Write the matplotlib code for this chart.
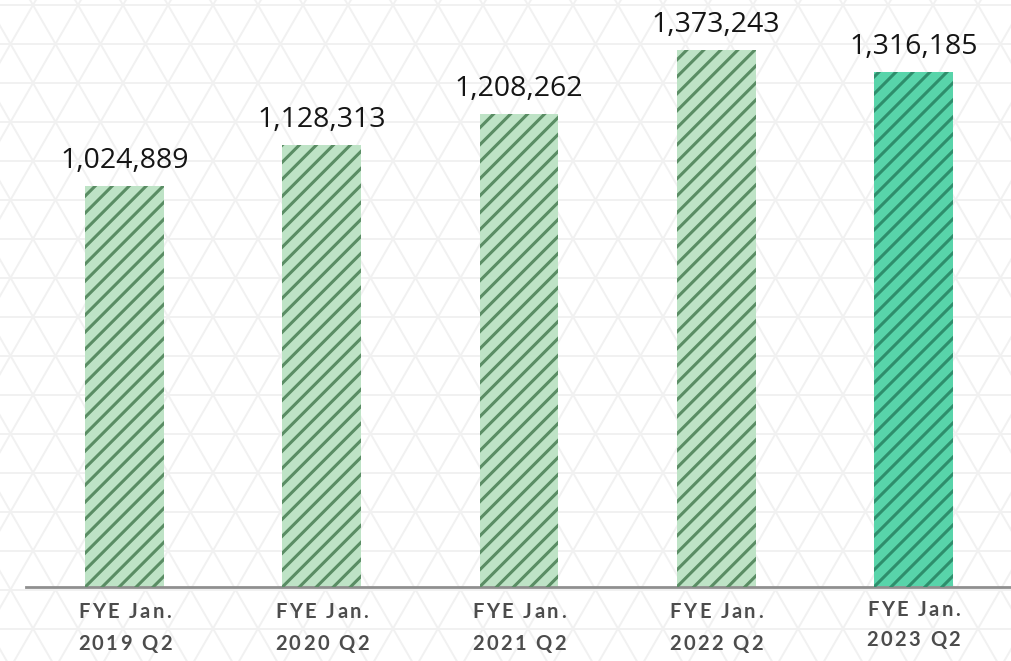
import numpy as np
import matplotlib
matplotlib.use('Agg')
import matplotlib.pyplot as plt
from matplotlib.font_manager import FontProperties

# data
periods = ['FYE Jan.\n2019 Q2', 'FYE Jan.\n2020 Q2', 'FYE Jan.\n2021 Q2',
           'FYE Jan.\n2022 Q2', 'FYE Jan.\n2023 Q2']
values = [1024889, 1128313, 1208262, 1373243, 1316185]

W, H = 1012, 661

fig = plt.figure(figsize=(W / 100, H / 100), dpi=100)
fig.patch.set_facecolor('white')

# faint triangle lattice in the background (pixel coords, y down)
bg = fig.add_axes([0, 0, 1, 1], zorder=0)
bg.set_xlim(0, W)
bg.set_ylim(H, 0)
bg.axis('off')
side = 45.0
row = side * np.sqrt(3) / 2
x0, y0 = 33.0, 5.0
lat_kw = dict(color='#f1f1f1', lw=1.4, solid_capstyle='butt')
for k in range(-2, int(H / row) + 3):
    bg.plot([0, W], [y0 + k * row] * 2, **lat_kw)
dx = 2000 / np.tan(np.radians(60))
for m in range(-60, 60):
    xs = x0 + m * side
    bg.plot([xs - dx, xs + dx], [y0 + 2000, y0 - 2000], **lat_kw)
    bg.plot([xs - dx, xs + dx], [y0 - 2000, y0 + 2000], **lat_kw)

# main bar axes
ax = fig.add_axes([26 / W, (H - 587) / H, (W - 26) / W, 587 / H], zorder=1)
ax.patch.set_alpha(0)
x = np.arange(len(values))
fills = ['#bee3c6'] * 4 + ['#58d4aa']
stripes = ['#5a8d64'] * 4 + ['#2e8e6c']
bars = ax.bar(x, values, width=0.4, color=fills, linewidth=0, zorder=2)
for i, v in enumerate(values):
    ax.annotate(f'{v:,}', (x[i], v), xytext=(0, 13), textcoords='offset points',
                ha='center', va='baseline', fontsize=20.5, family='Open Sans',
                color='#151515')

ax.set_xlim(-0.5, 4.5)
ax.set_ylim(0, 1500000)
for s in ['left', 'right', 'top']:
    ax.spines[s].set_visible(False)
ax.spines['bottom'].set_color('#8f8f8f')
ax.spines['bottom'].set_linewidth(2)
ax.set_xticks([])
ax.set_yticks([])

# diagonal stripes clipped to each bar (pixel overlay, y up)
ov = fig.add_axes([0, 0, 1, 1], zorder=2)
ov.set_xlim(0, W)
ov.set_ylim(0, H)
ov.axis('off')
renderer = fig.canvas.get_renderer()
step = 17.0
for b, c in zip(bars, stripes):
    ext = b.get_window_extent(renderer)
    for k in range(-40, 40):
        c0 = ext.x0 - ext.y0 + k * step
        line, = ov.plot([ext.x0 - 50, ext.x1 + 50],
                        [ext.x0 - 50 - c0, ext.x1 + 50 - c0],
                        color=c, lw=2.2, solid_capstyle='butt')
        line.set_clip_path(b)

# letter-spaced category labels under the axis
fp = FontProperties(family='Lato', weight='bold', size=14.5)


def tw(s):
    return renderer.get_text_width_height_descent(s, fp, ismath=False)[0]


def spaced_text(xc, yb, s, gap=2.4):
    widths = []
    for ch in s:
        if ch == ' ':
            widths.append(tw('a a') - tw('aa'))
        else:
            widths.append(tw(ch))
    total = sum(widths) + gap * (len(s) - 1)
    xp = xc - total / 2
    for ch, w in zip(s, widths):
        if ch != ' ':
            fig.text(xp / W, yb / H, ch, fontproperties=fp, color='#4c4c4c',
                     ha='left', va='baseline')
        xp += w + gap


base_y = ax.transData.transform((0, 0))[1]
for i, lab in enumerate(periods):
    xc = ax.transData.transform((x[i], 0))[0]
    top, bottom = lab.split('\n')
    last = i == len(periods) - 1
    spaced_text(xc, base_y - 31 + 2 * last, top)
    spaced_text(xc, base_y - 63 + 4 * last, bottom)

fig.savefig('out.png', dpi=100)
